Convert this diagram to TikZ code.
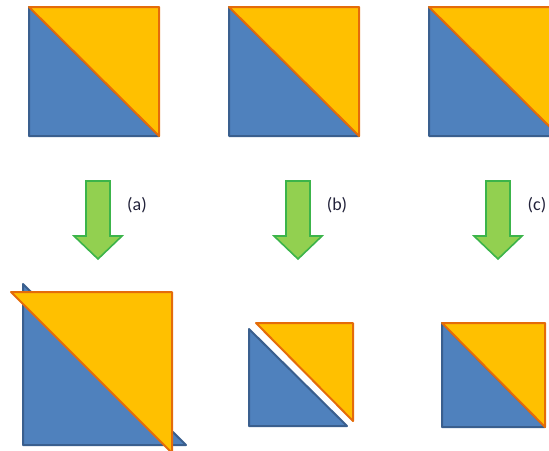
\documentclass[tikz,border=0pt]{standalone}
\usepackage{fontspec}
\setmainfont{Carlito}
\usepackage{tikz}
\usetikzlibrary{calc,positioning}

\definecolor{tileblue}{HTML}{4F81BD}
\definecolor{tileblueline}{HTML}{3A5F8E}
\definecolor{tileorange}{HTML}{FFC000}
\definecolor{tileorangeline}{HTML}{E46C0A}
\definecolor{arrowgreen}{HTML}{92D050}
\definecolor{arrowgreenline}{HTML}{3CB44A}
\definecolor{labeltext}{HTML}{22223A}

\tikzset{
  bluetri/.style={fill=tileblue,draw=tileblueline,line width=2pt,line join=round},
  orangetri/.style={fill=tileorange,draw=tileorangeline,line width=2pt,line join=round},
  downarrow/.style={fill=arrowgreen,draw=arrowgreenline,line width=1.6pt,line join=miter},
  steplabel/.style={font=\fontsize{18}{21}\selectfont,text=labeltext,inner sep=0pt}
}

\begin{document}
\begin{tikzpicture}[x=1pt,y=-1pt]
\clip (0,0) rectangle (549,450);

% Top row: three split tiles
\foreach \i in {0,1,2} {
  \begin{scope}[xshift=200*\i]
  \draw[bluetri] (29,7) -- (29,136) -- (159,136) -- cycle;
  \draw[orangetri] (29,7) -- (159,7) -- (159,136) -- cycle;
  \end{scope}
}

% Arrows and labels
\foreach \lbl [count=\i from 0] in {a,b,c} {
  \begin{scope}[xshift=200*\i]
  \draw[downarrow] (86,181) -- (110,181) -- (110,236) -- (122,236)
    -- (98,259) -- (74,236) -- (86,236) -- cycle;
  \node[steplabel] (lbl-\lbl) at (137,205) {(\lbl)};
  \end{scope}
}

% (a) enlarged halves, overlapping
\draw[bluetri] (23,284) -- (23,445) -- (186,445) -- cycle;
\draw[orangetri] (11,292) -- (172,292) -- (172,453) -- cycle;

% (b) halves pulled apart
\draw[bluetri] (249,329) -- (249,426) -- (347,426) -- cycle;
\draw[orangetri] (256,323) -- (353,323) -- (353,421) -- cycle;

% (c) halves fitted together
\draw[bluetri] (442,323) -- (442,427) -- (545,427) -- cycle;
\draw[orangetri] (442,323) -- (545,323) -- (545,427) -- cycle;
\end{tikzpicture}
\end{document}
